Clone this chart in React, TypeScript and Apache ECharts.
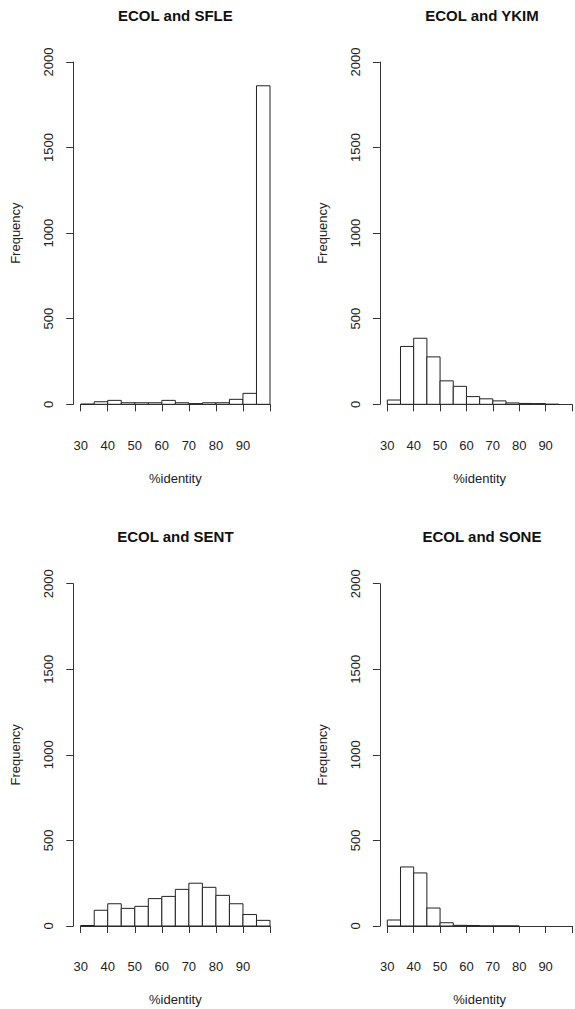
import React, { useEffect, useRef } from "react";
import * as echarts from "echarts";

const binStarts = [30, 35, 40, 45, 50, 55, 60, 65, 70, 75, 80, 85, 90, 95];
const binWidth = 5;
const sfleCounts = [1, 15, 23, 9, 9, 9, 23, 9, 4, 9, 9, 29, 64, 1861];
const ykimCounts = [25, 338, 386, 277, 137, 105, 45, 32, 20, 8, 5, 4, 0];
const sentCounts = [3, 92, 130, 103, 115, 160, 173, 214, 250, 226, 179, 130, 67, 33];
const soneCounts = [35, 345, 310, 105, 19, 4, 3, 0, 0, 0];
const xTicks = [30, 40, 50, 60, 70, 80, 90, 100];
const xTickLabels = ["30", "40", "50", "60", "70", "80", "90", ""];
const yTicks = [0, 500, 1000, 1500, 2000];

const panels = [
  { title: "ECOL and SFLE", counts: sfleCounts, left: 80.7, top: 62 },
  { title: "ECOL and YKIM", counts: ykimCounts, left: 387.3, top: 62 },
  { title: "ECOL and SENT", counts: sentCounts, left: 80.7, top: 583.7 },
  { title: "ECOL and SONE", counts: soneCounts, left: 387.3, top: 583.7 },
];

const FONT = "'Liberation Sans', Arial, sans-serif";
const LINE = "#333";
const TEXT = "#222";

export default function App() {
  const ref = useRef<HTMLDivElement>(null);
  useEffect(() => {
    const chart = echarts.init(ref.current!, null, { renderer: "svg" });
    const W = 189.3;
    const H = 342.3;
    const grids: any[] = [];
    const xAxes: any[] = [];
    const yAxes: any[] = [];
    const series: any[] = [];
    const graphics: any[] = [];
    panels.forEach((p, i) => {
      grids.push({ left: p.left, top: p.top, width: W, height: H, containLabel: false });
      xAxes.push({
        type: "value",
        gridIndex: i,
        min: xTicks[0],
        max: xTicks[xTicks.length - 1],
        interval: 10,
        offset: 13.4,
        name: "%identity",
        nameLocation: "middle",
        nameGap: 54,
        nameTextStyle: { fontFamily: FONT, fontSize: 13, color: TEXT },
        axisLine: { show: true, lineStyle: { color: LINE, width: 1 } },
        axisTick: { show: true, length: 7, lineStyle: { color: LINE } },
        axisLabel: {
          fontFamily: FONT,
          fontSize: 13,
          color: TEXT,
          margin: 21,
          showMaxLabel: true,
          formatter: (v: number) => xTickLabels[xTicks.indexOf(v)] ?? "",
        },
        splitLine: { show: false },
      });
      yAxes.push({
        type: "value",
        gridIndex: i,
        min: yTicks[0],
        max: yTicks[yTicks.length - 1],
        interval: 500,
        offset: 7.4,
        name: "Frequency",
        nameLocation: "middle",
        nameGap: 51,
        nameTextStyle: { fontFamily: FONT, fontSize: 13, color: TEXT },
        axisLine: { show: true, lineStyle: { color: LINE, width: 1 } },
        axisTick: { show: true, length: 7, lineStyle: { color: LINE } },
        axisLabel: {
          fontFamily: FONT,
          fontSize: 13,
          color: TEXT,
          margin: 18,
          rotate: 90,
          formatter: (v: number) => String(v),
        },
        splitLine: { show: false },
      });
      const data = p.counts.map((c, k) => [binStarts[k], binStarts[k] + binWidth, c]);
      series.push({
        type: "custom",
        xAxisIndex: i,
        yAxisIndex: i,
        data,
        renderItem: (params: any, api: any) => {
          const a = api.coord([api.value(0), 0]);
          const b = api.coord([api.value(1), api.value(2)]);
          return {
            type: "polygon",
            shape: { points: [[a[0], a[1]], [a[0], b[1]], [b[0], b[1]], [b[0], a[1]]] },
            style: { fill: "#fff", stroke: "#222", lineWidth: 1 },
          };
        },
      });
      graphics.push({
        type: "text",
        x: p.left - 7.4 + (W + 14.8) / 2,
        y: p.top - 47,
        style: {
          text: p.title,
          fontFamily: FONT,
          fontSize: 15,
          fontWeight: "bold",
          fill: "#111",
          textAlign: "center",
          textVerticalAlign: "middle",
        },
      });
    });
    chart.setOption({
      animation: false,
      backgroundColor: "#fff",
      grid: grids,
      xAxis: xAxes,
      yAxis: yAxes,
      series,
      graphic: graphics,
    });
    return () => chart.dispose();
  }, []);
  return (
    <div
      ref={ref}
      style={{ position: "fixed", left: 0, top: 0, width: 575, height: 1009, background: "#fff" }}
    />
  );
}
